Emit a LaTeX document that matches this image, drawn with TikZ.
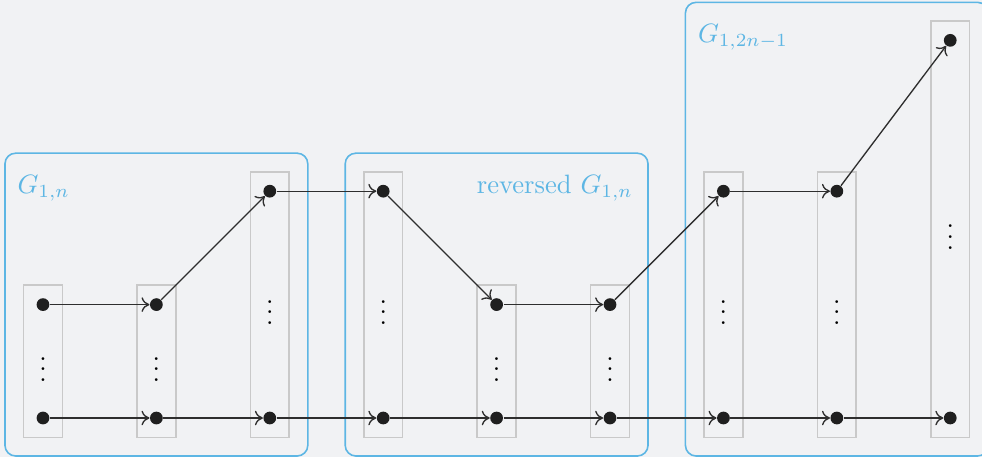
\documentclass[tikz,border=0pt]{standalone}
\usetikzlibrary{fit,arrows.meta}
\definecolor{bgcol}{HTML}{F1F2F4}
\definecolor{grpblue}{HTML}{5DB6E4}
\definecolor{colgray}{HTML}{C9C9C9}
\begin{document}
\begin{tikzpicture}[x=1.5cm,y=1.5cm,
  vertex/.style={circle,fill=black!88,inner sep=0pt,minimum size=4.8pt},
  colbox/.style={draw=colgray,line width=0.6pt,inner sep=4.7pt},
  grpbox/.style={draw=grpblue,line width=0.6pt,rounded corners=4pt,inner sep=6.7pt},
  grplabel/.style={text=grpblue},
  edge/.style={-{Computer Modern Rightarrow[length=3pt,width=5.5pt]},black!82,line width=0.5pt}]
\fill[bgcol] (-0.379,-0.344) rectangle (8.28,3.686);
\useasboundingbox (-0.379,-0.344) rectangle (8.28,3.686);

% one column per layer: lowest and highest vertex, dots between
\foreach \i/\h in {0/1,1/1,2/2,3/2,4/1,5/1,6/2,7/2,8/3.33} {
  \node[vertex] (b\i) at (\i,0) {};
  \node[vertex] (u\i) at (\i,\h) {};
  \node (d\i) at (\i,\h/2) {$\vdots$};
  \node[colbox,fit=(b\i)(u\i)] (col\i) {};
}

% the three blocks
\node[grpbox,fit=(col0)(col2)] (g1) {};
\node[grpbox,fit=(col3)(col5)] (g2) {};
\node[grpbox,fit=(col6)(col8)] (g3) {};
\node[grplabel,anchor=north west,xshift=1.5pt,yshift=-5pt] (l1) at (g1.north west) {$G_{1,n}$};
\node[grplabel,anchor=north east,xshift=-2.5pt,yshift=-5pt] (l2) at (g2.north east) {reversed $G_{1,n}$};
\node[grplabel,anchor=north west,xshift=1.5pt,yshift=-5pt] (l3) at (g3.north west) {$G_{1,2n-1}$};

% edges between neighbouring layers
\foreach \i [count=\j from 1] in {0,...,7} {
  \draw[edge] (b\i) -- (b\j);
  \draw[edge] (u\i) -- (u\j);
}
\end{tikzpicture}
\end{document}
